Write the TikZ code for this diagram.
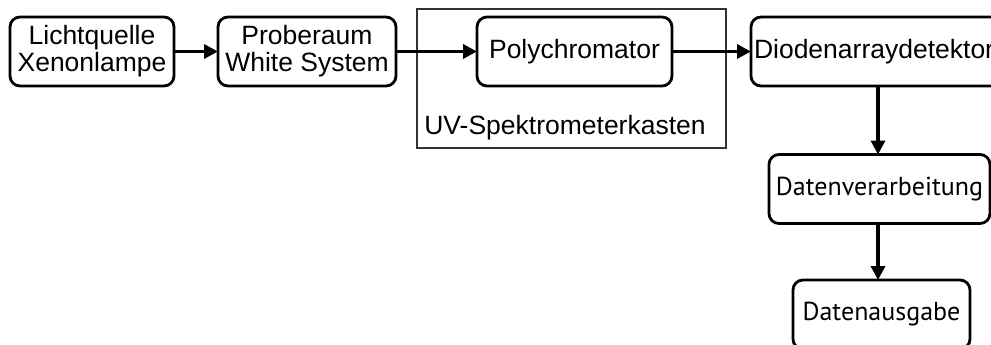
\documentclass[tikz,border=0pt]{standalone}
\usepackage{fontspec}
\setmainfont{Liberation Sans}
\newfontfamily\datafont{PT Sans}
\usepackage{tikz}
\usetikzlibrary{arrows.meta, positioning, calc}
\definecolor{FrameGray}{HTML}{333333}
\tikzset{
  blockbox/.style={draw=black, line width=2.8pt, rounded corners=10pt, inner sep=0pt,
                   outer sep=0pt, align=center, font=\fontsize{26.5}{27}\selectfont},
  flowarrow/.style={line width=3.4pt, -{Triangle[length=14pt,width=14pt]}},
}
\begin{document}
\begin{tikzpicture}[x=1pt, y=-1pt]
\useasboundingbox (0,0) rectangle (991,345);
\clip (0,0) rectangle (991,345);
% spectrometer housing
\node[draw=FrameGray, line width=2.4pt, inner sep=0pt, minimum width=309pt,
      minimum height=139pt] (kasten) at (571.5,78.5) {};
\node[font=\fontsize{26.5}{27}\selectfont, inner sep=0pt] (kastenlabel) at (565,128) {UV-Spektrometerkasten};
% main chain
\node[blockbox, minimum width=164pt, minimum height=69pt] (licht) at (92,51.5) {Lichtquelle\\Xenonlampe};
\node[blockbox, minimum width=178pt, minimum height=69pt] (probe) at (307,51.5) {Proberaum\\White System};
\node[blockbox, minimum width=195pt, minimum height=69pt] (poly) at (574.5,51.5) {Polychromator};
\node[blockbox, minimum width=254pt, minimum height=69pt, text width=248pt, align=left] (diode) at (878,51.5) {Diodenarraydetektor};
\node[blockbox, minimum width=221pt, minimum height=69pt, font=\datafont\fontsize{26}{27}\selectfont] (verarb) at (879.5,189) {Datenverarbeitung};
\node[blockbox, minimum width=177pt, minimum height=69pt, font=\datafont\fontsize{26}{27}\selectfont] (ausgabe) at (881.5,314.5) {Datenausgabe};
% connectors
\draw[flowarrow] (licht) -- (probe);
\draw[flowarrow] (probe) -- (poly);
\draw[flowarrow] (poly) -- (diode);
\draw[flowarrow] (diode.south) -- (diode.south |- verarb.north);
\draw[flowarrow] (verarb.south -| diode.south) -- (diode.south |- ausgabe.north);
\end{tikzpicture}
\end{document}
